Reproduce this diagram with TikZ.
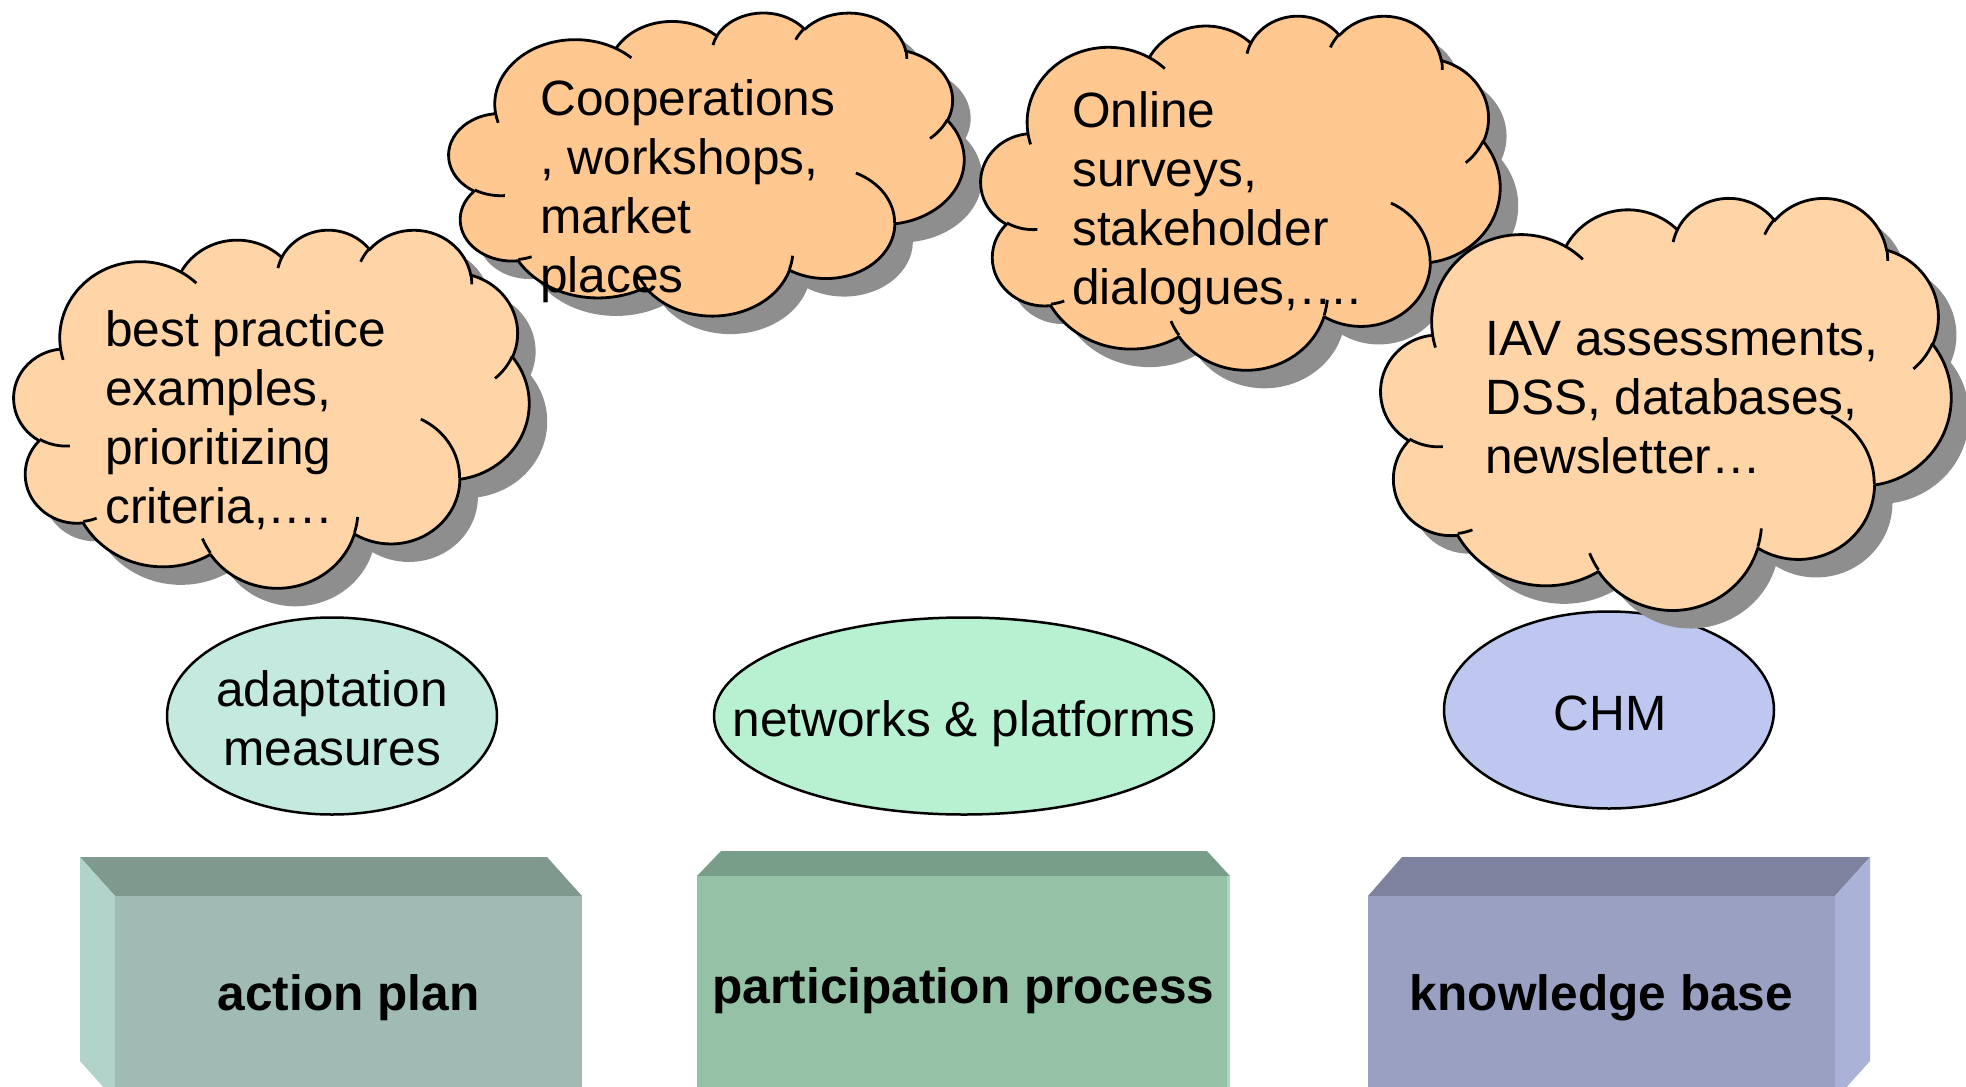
\documentclass[tikz,border=0pt]{standalone}
\usepackage{fontspec}
\setmainfont{Liberation Sans}
\usetikzlibrary{shapes.geometric}

\definecolor{cloudA}{HTML}{FFD5A8}
\definecolor{cloudB}{HTML}{FFC891}
\definecolor{shadowgray}{HTML}{8E8E8E}
\definecolor{ellA}{HTML}{C4E9DE}
\definecolor{ellB}{HTML}{B8F1D1}
\definecolor{ellC}{HTML}{BDC7F0}
\definecolor{boxAtop}{HTML}{7F998F}
\definecolor{boxAfront}{HTML}{A0BBB4}
\definecolor{boxAside}{HTML}{B2D3CA}
\definecolor{boxBtop}{HTML}{789E89}
\definecolor{boxBfront}{HTML}{95C2A7}
\definecolor{boxBside}{HTML}{A8DABE}
\definecolor{boxCtop}{HTML}{7E829E}
\definecolor{boxCfront}{HTML}{9AA0C2}
\definecolor{boxCside}{HTML}{AAB2D8}

% elliptical arc with DrawingML style (visual) angles
\newcommand\carc[4]{arc[x radius=#1, y radius=#2,
  start angle={atan2((#1)*sin(#3),(#2)*cos(#3))},
  delta angle={Mod(atan2((#1)*sin((#3)+(#4)),(#2)*cos((#3)+(#4)))-atan2((#1)*sin(#3),(#2)*cos(#3)),360)}]}

\newcommand\cloudoutline{(39.00,143.70)
  \carc{67.53}{91.90}{-190.4875}{123.7805}
  \carc{53.33}{72.67}{-144.1024}{89.9452}
  \carc{43.65}{59.45}{-145.8079}{99.7230}
  \carc{48.57}{65.95}{-130.9861}{117.2417}
  \carc{53.33}{72.73}{-78.7089}{109.0269}
  \carc{67.75}{92.20}{-46.2673}{130.2690}
  \carc{57.85}{78.67}{0.6250}{114.0333}
  \carc{67.52}{92.15}{22.4516}{115.1726}
  \carc{77.20}{105.43}{66.2426}{75.7110}
  \carc{43.60}{59.18}{-274.9421}{146.7356}
  \carc{43.45}{59.45}{-246.8285}{152.5189} -- cycle}

\newcommand\cloudinner{(46.93,261.77) \carc{43.45}{59.45}{86.7420}{26.4295}
  (69.28,348.99) \carc{43.60}{59.18}{73.6105}{11.4475}
  (164.78,390.90) \carc{67.52}{92.15}{137.6242}{14.0811}
  (288.27,347.51) \carc{67.52}{92.15}{6.4533}{15.9984}
  (341.29,229.54) \carc{57.85}{78.67}{-70.2924}{70.9174}
  (417.98,153.54) \carc{53.33}{72.73}{30.3180}{27.7515}
  (383.24,54.26) \carc{48.57}{65.95}{-13.7443}{14.8589}
  (290.78,39.52) \carc{48.57}{65.95}{-149.1815}{18.1954}
  (221.41,47.20) \carc{43.65}{59.45}{-163.4943}{17.6864}
  (140.00,51.92) \carc{67.53}{91.90}{-66.7070}{12.3194}
  (41.27,157.89) \carc{67.53}{91.90}{157.6544}{11.8582}}

% #1 name, #2 x0, #3 y0, #4 width, #5 height, #6 fill
\newcommand\drawcloud[6]{%
  \pgfmathsetmacro\cldxu{#4/432}%
  \pgfmathsetmacro\cldyu{#5/432}%
  \begin{scope}[shift={(#2+18,#3+18)}, x=\cldxu pt, y=-\cldyu pt]
    \fill[shadowgray] \cloudoutline;
  \end{scope}
  \begin{scope}[shift={(#2,#3)}, x=\cldxu pt, y=-\cldyu pt]
    \filldraw[cloudline, fill=#6] \cloudoutline;
    \draw[cloudline] \cloudinner;
    \coordinate (#1) at (216,216);
  \end{scope}}

\tikzset{
  cloudline/.style={draw=black, line width=2.8pt, line join=round},
  lbl/.style={font=\fontsize{49.6}{59.3}\selectfont, inner sep=0pt},
  cloudtext/.style={anchor=base west, inner sep=0pt, font=\fontsize{49.6}{59.3}\selectfont},
  ellnode/.style={ellipse, draw=black, line width=2.5pt, inner sep=0pt},
  frontface/.style={rectangle, inner sep=0pt, font=\fontsize{49.6}{59.3}\selectfont\bfseries},
}

\begin{document}
\begin{tikzpicture}[x=1pt, y=-1pt]
\useasboundingbox (0,0) rectangle (1966,1087);
\fill[white] (0,0) rectangle (1966,1087);

\begin{scope}
\clip (0,0) rectangle (1966,1087);
% box 1: action plan
\fill[boxAtop] (80,857) -- (547,857) -- (582,896) -- (115,896) -- cycle;
\fill[boxAside] (80,857) -- (115,896) -- (115,1100) -- (80,1061) -- cycle;
\node[frontface, fill=boxAfront, minimum width=467pt, minimum height=204pt] (ap) at (348.5,998) {action plan};
% box 2: participation process
\fill[boxBtop] (721,851) -- (1207,851) -- (1230,876) -- (697,876) -- cycle;
\node[frontface, fill=boxBfront, minimum width=533pt, minimum height=230pt] (pp) at (963.5,991) {participation process};
\fill[boxBside] (1226.5,876) rectangle (1230,1106);
% box 3: knowledge base
\fill[boxCtop] (1402,857) -- (1870,857) -- (1835,896) -- (1368,896) -- cycle;
\fill[boxCside] (1870,857) -- (1835,896) -- (1835,1100) -- (1870,1061) -- cycle;
\node[frontface, fill=boxCfront, minimum width=467pt, minimum height=204pt] (kb) at (1601.5,998) {knowledge base};
\end{scope}

% ellipses
\node[ellnode, fill=ellA, minimum width=330pt, minimum height=197pt] (e1) at (332,716) {};
\node[lbl] (e1t) at (332,724) {\begin{tabular}{@{}c@{}}adaptation\\measures\end{tabular}};
\node[ellnode, fill=ellB, minimum width=500pt, minimum height=197pt] (e2) at (964,716) {};
\node[lbl] (e2t) at (964,724) {networks \& platforms};
\node[ellnode, fill=ellC, minimum width=330pt, minimum height=197pt] (e3) at (1609,710) {};
\node[lbl] (e3t) at (1610,713) {CHM};

% clouds
\drawcloud{c1}{14}{229}{515}{358}{cloudA}
\node[cloudtext] (c1t) at (105,346) {\begin{tabular}[t]{@{}l@{}}best practice\\examples,\\prioritizing\\criteria,….\end{tabular}};

\drawcloud{c2}{449}{12}{515}{303}{cloudB}
\node[cloudtext] (c2t) at (540,115) {\begin{tabular}[t]{@{}l@{}}Cooperations\\, workshops,\\market\\places\end{tabular}};

\drawcloud{c3}{981}{15}{519}{354}{cloudB}
\node[cloudtext] (c3t) at (1072,127) {\begin{tabular}[t]{@{}l@{}}Online\\surveys,\\stakeholder\\dialogues,….\end{tabular}};

\drawcloud{c4}{1381}{197}{570}{412}{cloudA}
\node[cloudtext] (c4t) at (1485,355) {\begin{tabular}[t]{@{}l@{}}IAV assessments,\\DSS, databases,\\newsletter…\end{tabular}};

\end{tikzpicture}
\end{document}
